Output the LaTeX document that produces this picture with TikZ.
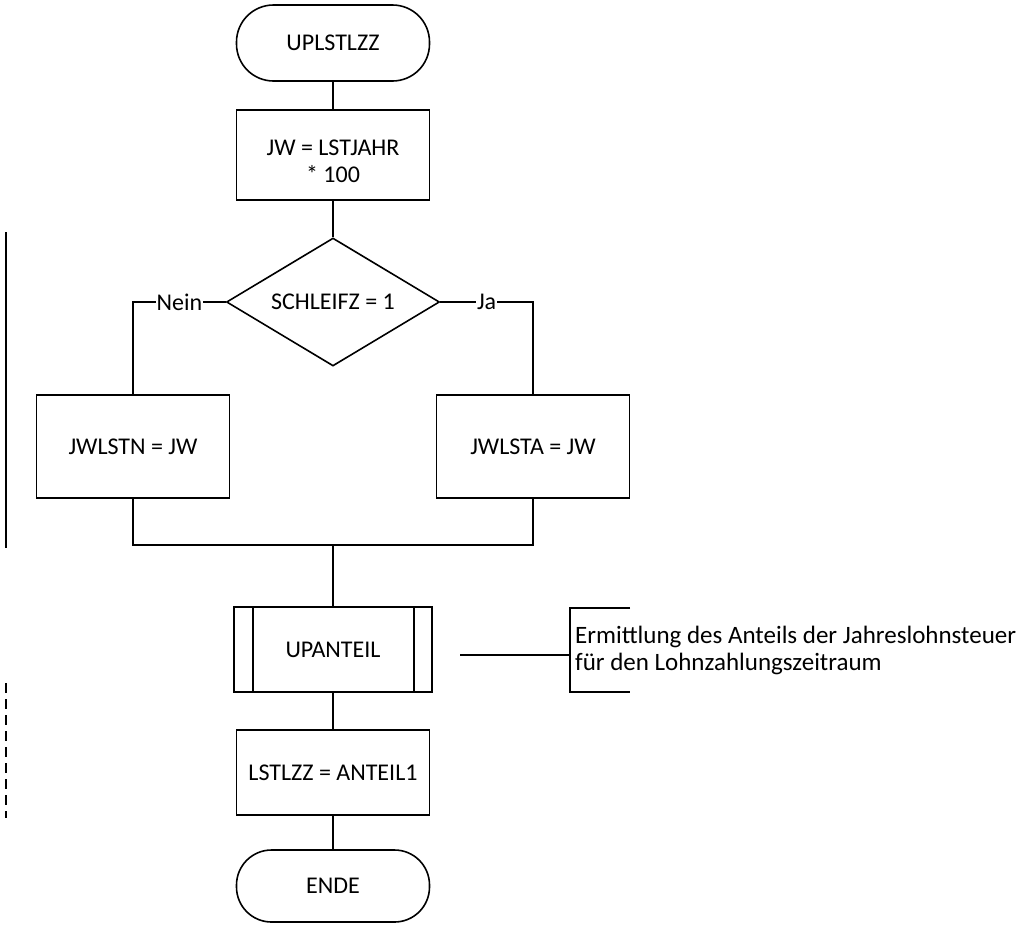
\documentclass[tikz,border=0pt]{standalone}
\usepackage{fontspec}
\setmainfont{Carlito}
\usetikzlibrary{shapes.geometric}
\begin{document}
\begin{tikzpicture}[x=1pt,y=-1pt,
  every node/.style={font=\fontsize{24}{27}\selectfont},
  line/.style={line width=1.6pt, draw=black},
  term/.style={line, rectangle, rounded corners=37pt, minimum width=193pt, minimum height=76pt, inner sep=0pt},
  proc/.style={line, rectangle, minimum width=193pt, inner sep=0pt, align=center},
  dec/.style={line, diamond, minimum width=213pt, minimum height=128pt, inner sep=0pt, aspect=1.66},
  lbl/.style={fill=white, inner sep=1pt}
]
\useasboundingbox (0,0) rectangle (1028,927);
\node[term] (start) at (333,43) {UPLSTLZZ};
\node[proc, minimum height=90pt] (jw) at (333,155) {};
\node (jwt) at (333,161) [align=center, inner sep=0pt] {JW = LSTJAHR\\* 100};
\node[dec] (sch) at (333,302) {SCHLEIFZ = 1};
\node[proc, minimum height=103pt] (jwn) at (133,446.5) {JWLSTN = JW};
\node[proc, minimum height=103pt] (jwa) at (533,446.5) {JWLSTA = JW};
\coordinate (m) at (333,545);
\node[line, rectangle, minimum width=198pt, minimum height=85pt, inner sep=0pt] (up) at (333,649.5) {UPANTEIL};
\draw[line] ([xshift=20pt]up.north west) -- ([xshift=20pt]up.south west);
\draw[line] ([xshift=-19pt]up.north east) -- ([xshift=-19pt]up.south east);
\node[proc, minimum height=85pt] (ls) at (333,772.5) {LSTLZZ = ANTEIL1};
\node[term, minimum height=72pt, rounded corners=35pt] (ende) at (333,886) {ENDE};

\draw[line] (start) -- (jw);
\draw[line] (jw) -- (sch);
\draw[line] (sch.west) -| (jwn.north) node[lbl, pos=0.25] {Nein};
\draw[line] (sch.east) -| (jwa.north) node[lbl, pos=0.25] {Ja};
\draw[line] (jwn.south) |- (m);
\draw[line] (jwa.south) |- (m);
\draw[line] (m) -- (up.north);
\draw[line] (up) -- (ls);
\draw[line] (ls) -- (ende);

% annotation
\coordinate (ab) at (570,655);
\node[anchor=west, align=left, inner sep=0pt, font=\fontsize{25}{27}\selectfont] (note) at (575,650) {Ermittlung des Anteils der Jahreslohnsteuer\\für den Lohnzahlungszeitraum};
\draw[line] (630,608) -- (570,608) -- (570,692) -- (630,692);
\draw[line] (460,655) -- (ab);

% left margin lines
\draw[line] (6,232) -- (6,548);
\draw[line, dash pattern=on 10pt off 6pt] (6,683) -- (6,818);
\end{tikzpicture}
\end{document}
